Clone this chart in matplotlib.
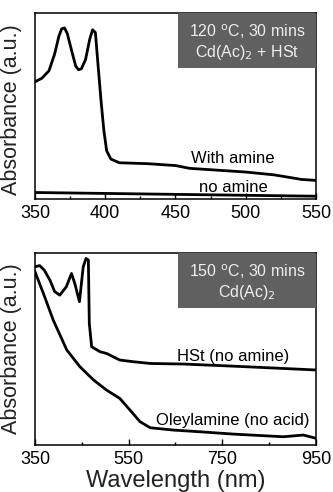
import matplotlib.pyplot as plt
from matplotlib.patches import Rectangle

plt.rcParams['font.family'] = ['Liberation Sans', 'DejaVu Sans']

# 120 C panel
wl_top = [350, 355, 360, 364, 367, 369, 371, 373, 376, 379, 381, 383, 386, 389, 391, 393,
          395, 397, 399, 401, 404, 410, 430, 450, 460, 480, 500, 520, 540, 550]
abs_amine = [0.63, 0.65, 0.69, 0.78, 0.875, 0.915, 0.92, 0.89, 0.80, 0.715, 0.695, 0.70,
             0.75, 0.86, 0.91, 0.895, 0.71, 0.53, 0.37, 0.26, 0.215, 0.195, 0.19, 0.18,
             0.165, 0.155, 0.145, 0.13, 0.105, 0.10]
wl_noamine = [350, 450, 550]
abs_noamine = [0.035, 0.025, 0.015]

# 150 C panel
wl_hst = [350, 360, 370, 382, 392, 403, 417, 428, 435, 445, 453, 459, 464, 466, 471, 489,
          503, 517, 531, 560, 596, 667, 773, 880, 950]
abs_hst = [0.929, 0.935, 0.911, 0.859, 0.80, 0.781, 0.825, 0.894, 0.842, 0.747, 0.929, 0.972,
           0.964, 0.634, 0.512, 0.486, 0.477, 0.460, 0.443, 0.434, 0.425, 0.422, 0.411,
           0.399, 0.391]
wl_oley = [350, 368, 389, 418, 446, 475, 503, 531, 553, 574, 596, 645, 702, 773, 880, 923, 950]
abs_oley = [0.903, 0.79, 0.651, 0.495, 0.408, 0.339, 0.286, 0.243, 0.182, 0.122, 0.090,
            0.078, 0.069, 0.057, 0.043, 0.052, 0.035]

top_major = [350, 400, 450, 500, 550]
top_minor = [375, 425, 475, 525]
bot_major = [350, 550, 750, 950]
bot_minor = [450, 650, 850]

fig = plt.figure(figsize=(3.33, 4.92), dpi=100)
ax1 = fig.add_axes([0.105, 0.5955, 0.844, 0.378])
ax2 = fig.add_axes([0.105, 0.0955, 0.844, 0.390])


def style(ax, major, minor):
    ax.set_xlim(major[0], major[-1])
    ax.set_ylim(0, 1)
    ax.set_yticks([])
    ax.set_xticks(major)
    ax.set_xticks(minor, minor=True)
    ax.tick_params(axis='x', which='major', direction='in', length=4, width=1,
                   labelsize=13, pad=4)
    ax.tick_params(axis='x', which='minor', direction='in', length=2.5, width=1)
    for s in ax.spines.values():
        s.set_linewidth(1.1)
    ax.set_ylabel('Absorbance (a.u.)', fontsize=15.5, color='#222222')


def tag(ax, y0, line1, line2):
    ax.add_patch(Rectangle((0.509, y0), 0.491, 1 - y0, transform=ax.transAxes,
                           facecolor='#606060', edgecolor='none', zorder=3))
    ax.text(0.754, y0 + (1 - y0) * 0.66, line1, transform=ax.transAxes, ha='center',
            va='center', fontsize=11.5, color='#eeeeee', zorder=4)
    ax.text(0.754, y0 + (1 - y0) * 0.28, line2, transform=ax.transAxes, ha='center',
            va='center', fontsize=11.5, color='#eeeeee', zorder=4)


style(ax1, top_major, top_minor)
ax1.plot(wl_top, abs_amine, color='black', lw=2)
ax1.plot(wl_noamine, abs_noamine, color='black', lw=2)
ax1.text(491, 0.22, 'With amine', ha='center', va='center', fontsize=12)
ax1.text(491, 0.06, 'no amine', ha='center', va='center', fontsize=12)
tag(ax1, 0.704, r'120 $^{\mathrm{o}}$C, 30 mins', r'Cd(Ac)$_2$ + HSt')
ax1.yaxis.set_label_coords(-0.046, 0.48)

style(ax2, bot_major, bot_minor)
ax2.plot(wl_hst, abs_hst, color='black', lw=2)
ax2.plot(wl_oley, abs_oley, color='black', lw=2)
ax2.text(773, 0.46, 'HSt (no amine)', ha='center', va='center', fontsize=12)
ax2.text(773, 0.13, 'Oleylamine (no acid)', ha='center', va='center', fontsize=12)
tag(ax2, 0.714, r'150 $^{\mathrm{o}}$C, 30 mins', r'Cd(Ac)$_2$')
ax2.yaxis.set_label_coords(-0.046, 0.50)
ax2.set_xlabel('Wavelength (nm)', fontsize=17, color='#222222')
ax2.xaxis.set_label_coords(0.5, -0.13)

fig.savefig('out.png', dpi=100)
